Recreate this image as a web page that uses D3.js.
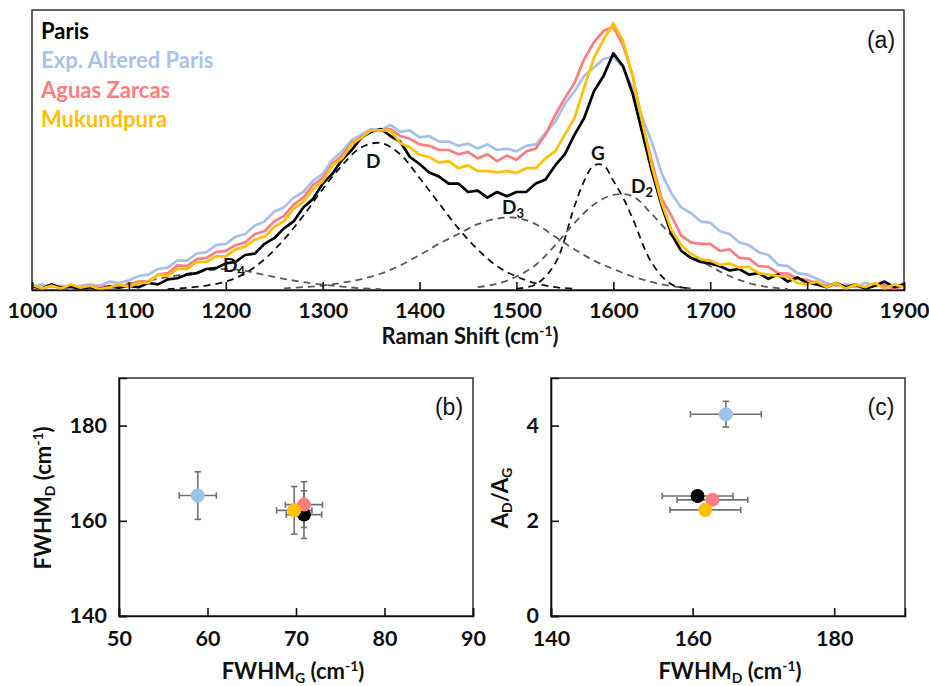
<!DOCTYPE html>
<html><head><meta charset="utf-8">
<script src="https://cdn.jsdelivr.net/npm/d3@7"></script>
<style>body{margin:0;background:#fff}svg{display:block;font-family:Lato,"Open Sans",sans-serif}</style>
</head><body><svg id="chart" width="929" height="686"></svg>
<script>
// ---------- data ----------
const seriesNames = ["Paris", "Exp. Altered Paris", "Aguas Zarcas", "Mukundpura"];
const seriesColors = ["#000000", "#a7c0e8", "#ff7c80", "#ffc000"];
const markerColors = ["#000000", "#9fc2e8", "#ff7c80", "#ffc000"];

const ramanShift = d3.range(1000, 1901, 10);
const parisI = [1.5,0.5,2.0,0.8,1.2,0.5,1.0,0.3,1.2,0.8,
  1.5,1.0,2.5,2.0,3.8,4.2,5.5,6.0,7.5,7.8,
  9.5,10.0,12.5,13.0,16.5,18.5,22.0,24.5,29.5,32.5,
  38.0,41.5,46.5,50.0,54.5,56.5,57.5,55.0,53.0,47.5,
  45.0,42.0,40.5,38.0,38.0,35.0,35.5,33.0,35.0,33.5,
  35.0,35.0,38.0,39.5,44.5,48.5,55.5,61.5,71.0,76.5,
  84.5,80.0,70.0,56.0,42.0,30.0,20.0,14.0,11.5,10.0,
  9.5,8.5,7.0,7.5,5.5,6.0,4.0,5.5,3.0,4.5,
  2.5,2.0,1.0,2.5,1.0,2.0,0.5,1.5,3.0,1.0,2.0];
const alteredI = [1.0,2.0,1.0,1.5,0.5,1.5,2.0,1.5,3.0,2.5,
  3.5,5.0,5.5,7.5,8.0,10.5,10.5,13.0,13.5,16.0,
  16.5,19.0,20.0,23.0,24.5,28.0,29.5,33.0,35.0,39.0,
  41.5,46.5,49.5,53.5,55.5,57.5,57.0,59.0,56.5,57.0,
  54.5,55.0,53.0,53.0,51.5,52.3,50.5,52.0,50.0,50.5,
  49.5,51.5,52.0,56.0,60.0,66.5,71.0,76.5,79.5,82.5,
  83.3,79.5,72.0,61.5,52.5,41.5,34.5,29.5,27.5,24.5,
  24.0,21.0,20.0,17.0,16.0,13.5,12.5,9.0,8.5,6.0,
  5.5,4.0,2.5,1.5,2.0,1.0,2.5,1.5,2.0,1.0,2.5];
const aguasI = [1.0,0.5,1.5,0.8,1.5,0.5,1.2,0.8,1.5,1.2,
  2.0,3.0,3.0,5.5,6.0,8.8,8.5,11.0,11.5,13.5,
  14.0,16.0,17.0,20.0,21.0,24.5,26.5,30.5,33.0,37.5,
  40.0,45.0,48.0,52.5,54.5,57.0,57.0,57.5,55.0,54.0,
  52.0,51.5,50.0,50.0,48.5,49.3,47.0,48.5,46.0,48.0,
  46.5,49.5,50.5,55.5,62.5,68.5,74.0,82.5,88.5,92.5,
  94.0,87.5,76.5,59.5,45.5,32.5,26.5,19.5,17.0,16.5,
  16.5,14.0,14.5,11.5,11.2,8.5,8.3,6.0,5.9,4.0,
  3.6,2.5,1.5,2.0,1.0,1.5,0.5,2.0,1.5,0.5,1.5];
const mukundpuraI = [2.0,0.5,1.5,0.5,2.0,0.8,1.5,0.3,1.0,1.8,
  1.2,2.5,2.5,5.5,5.0,7.5,7.5,10.0,10.0,12.0,
  12.0,14.5,15.5,18.0,19.0,22.5,24.5,29.0,31.5,36.0,
  38.8,44.5,47.0,52.0,54.5,57.0,57.0,57.0,52.5,51.0,
  48.3,47.5,45.5,46.0,43.5,44.5,42.5,42.5,42.0,42.5,
  41.8,43.5,43.5,47.0,49.5,55.5,61.5,72.5,82.8,89.5,
  95.2,89.0,76.0,60.0,44.0,31.0,21.4,16.0,13.0,11.0,
  10.5,9.0,9.5,8.0,8.3,6.0,5.5,5.0,4.8,2.5,
  2.0,3.0,1.0,2.5,0.5,2.0,1.0,2.5,0.5,2.0,1.0];

// fitted bands (Paris)
const d4Shift = [1060,1080,1100,1120,1140,1160,1180,1200,1220,1240,1260,1280,1300,1320,1340,1360];
const d4Val   = [1.0,1.5,2.4,3.4,4.6,5.8,6.9,7.5,6.8,5.4,4.0,2.8,1.9,1.2,0.6,0.3];
const dShift  = [1140,1160,1180,1200,1220,1240,1260,1280,1300,1320,1340,1360,1380,1400,1420,1440,1460,1480,1500,1520,1540,1560];
const dVal    = [0.3,0.8,1.6,3.0,6.0,11.0,18.0,26.5,36.0,44.5,51.0,52.5,48.5,40.0,31.0,22.0,14.5,8.5,4.8,2.4,1.0,0.4];
const d3Shift = [1260,1280,1300,1320,1340,1360,1380,1400,1420,1440,1460,1480,1500,1520,1540,1560,1580,1600,1620,1640,1660,1680];
const d3Val   = [0.6,1.0,1.6,2.6,3.9,5.8,8.8,12.5,16.5,20.0,23.5,25.5,25.8,23.5,19.0,14.5,10.5,7.5,4.8,2.8,1.4,0.6];
const gShift  = [1500,1520,1540,1560,1570,1580,1590,1600,1610,1620,1640,1660,1680];
const gVal    = [0.5,2.0,9.5,30.0,39.0,44.5,44.5,39.0,33.0,25.5,9.5,2.0,0.5];
const d2Shift = [1460,1480,1500,1520,1540,1560,1580,1600,1620,1640,1660,1680,1700,1720,1740,1760,1780];
const d2Val   = [1.0,2.2,4.8,9.0,16.0,24.0,30.5,34.0,33.5,27.0,19.5,13.0,8.5,5.0,2.5,1.0,0.4];

// panel b / c values (Paris, Exp. Altered Paris, Aguas Zarcas, Mukundpura)
const fwhmG     = [70.9, 58.9, 70.9, 69.8];
const fwhmGErr  = [2.0, 2.1, 2.1, 2.0];
const fwhmD_b   = [161.3, 165.3, 163.4, 162.2];
const fwhmD_bErr= [5.0, 5.0, 4.8, 5.0];
const fwhmD_c   = [160.7, 164.7, 162.8, 161.8];
const fwhmD_cErr= [5.0, 5.0, 5.0, 5.0];
const adRatio   = [2.52, 4.24, 2.44, 2.23];
const adRatioErr= [0.08, 0.27, 0.08, 0.12];

const ticksA = [1000,1100,1200,1300,1400,1500,1600,1700,1800,1900];
const ticksBx = [50,60,70,80,90], ticksBy = [140,160,180];
const ticksCx = [140,160,180], ticksCy = [0,2,4];

// ---------- drawing ----------
const svg = d3.select("#chart");
const FS = 22, TFS = 21.5, SUB = 14;

// Panel (a)
const xA = d3.scaleLinear().domain([1000,1900]).range([32,904]);
const yA = d3.scaleLinear().domain([0,100]).range([290,10]);
const gA = svg.append("g");
gA.append("rect").attr("x",32).attr("y",10).attr("width",872).attr("height",280)
  .attr("fill","none").attr("stroke","#222").attr("stroke-width",1.4);

const fitLine = d3.line().curve(d3.curveCatmullRom.alpha(0.5));
const fits = [
  {xs:d4Shift, ys:d4Val, c:"#5a5a5a"},
  {xs:dShift, ys:dVal, c:"#111"},
  {xs:d3Shift, ys:d3Val, c:"#5a5a5a"},
  {xs:gShift, ys:gVal, c:"#111"},
  {xs:d2Shift, ys:d2Val, c:"#5a5a5a"}
];
fits.forEach(f => {
  gA.append("path").attr("d", fitLine(f.xs.map((x,i)=>[xA(x), yA(f.ys[i])])))
    .attr("fill","none").attr("stroke",f.c).attr("stroke-width",1.8).attr("stroke-dasharray","7,5");
});

const spectra = [alteredI, aguasI, parisI, mukundpuraI];
const specColors = [seriesColors[1], seriesColors[2], seriesColors[0], seriesColors[3]];
const specLine = d3.line().curve(d3.curveLinear);
spectra.forEach((s,k) => {
  gA.append("path").attr("d", specLine(ramanShift.map((x,i)=>[xA(x), yA(s[i])])))
    .attr("fill","none").attr("stroke",specColors[k]).attr("stroke-width",2.7)
    .attr("stroke-linejoin","round");
});

// x axis (a)
const axA = d3.axisBottom(xA).tickValues(ticksA).tickSize(-8).tickPadding(14).tickFormat(d3.format("d"));
const axAg = gA.append("g").attr("transform","translate(0,290)").call(axA);
axAg.select(".domain").attr("stroke","#111").attr("stroke-width",1.6);
axAg.selectAll(".tick line").attr("stroke","#111").attr("stroke-width",1.6);
axAg.selectAll(".tick text").attr("font-size",TFS).attr("font-weight","bold").attr("fill","#111")
  .attr("font-family","Lato").attr("dy","0.66em");

gA.append("text").attr("x",470).attr("y",344).attr("text-anchor","middle")
  .attr("font-size",FS).attr("font-weight","bold").attr("fill","#111")
  .call(t=>{t.append("tspan").text("Raman Shift (cm");
    t.append("tspan").text("-1").attr("font-size",SUB).attr("dy",-8);
    t.append("tspan").text(")").attr("dy",8);});

// legend
seriesNames.forEach((n,i)=>{
  gA.append("text").attr("x",41).attr("y",39 + i*29.3).text(n)
    .attr("font-size",FS).attr("font-weight","bold").attr("fill", i===1 ? "#a7c4e8" : seriesColors[i]);
});
gA.append("text").attr("x",881).attr("y",48).attr("text-anchor","middle").text("(a)")
  .attr("font-size",23).attr("fill","#111").attr("font-family","'Liberation Sans',Arial,sans-serif");

// band labels
function bandLabel(x,y,main,sub){
  const t = gA.append("text").attr("x",x).attr("y",y).attr("font-size",19).attr("font-weight","bold").attr("fill","#111");
  t.append("tspan").text(main);
  if(sub) t.append("tspan").text(sub).attr("font-size",13).attr("dy",4);
}
bandLabel(366,168,"D");
bandLabel(223,272,"D","4");
bandLabel(502,214,"D","3");
bandLabel(591,160,"G");
bandLabel(631,193,"D","2");

// ---------- scatter panels ----------
function scatterPanel(opt){
  const g = svg.append("g");
  const x = d3.scaleLinear().domain(opt.xd).range(opt.xr);
  const y = d3.scaleLinear().domain(opt.yd).range([616,378]);
  g.append("rect").attr("x",opt.xr[0]).attr("y",378).attr("width",opt.xr[1]-opt.xr[0]).attr("height",238)
    .attr("fill","none").attr("stroke","#222").attr("stroke-width",1.4);
  const ax = g.append("g").attr("transform","translate(0,616)")
    .call(d3.axisBottom(x).tickValues(opt.xt).tickSize(-8).tickPadding(14).tickFormat(d3.format("d")));
  const ay = g.append("g").attr("transform",`translate(${opt.xr[0]},0)`)
    .call(d3.axisLeft(y).tickValues(opt.yt).tickSize(-8).tickPadding(12).tickFormat(d3.format("d")));
  [ax,ay].forEach(a=>{
    a.select(".domain").attr("stroke","#111").attr("stroke-width",1.6);
    a.selectAll(".tick line").attr("stroke","#111").attr("stroke-width",1.6);
    a.selectAll(".tick text").attr("font-size",TFS).attr("font-weight","bold").attr("fill","#111").attr("font-family","Lato");
  });
  ax.selectAll(".tick text").attr("dy","0.75em");
  // error bars
  const cap = 3.2, ec = "#707070";
  opt.order.forEach(i=>{
    const cx = x(opt.xv[i]), cy = y(opt.yv[i]);
    const x0 = x(opt.xv[i]-opt.xe[i]), x1 = x(opt.xv[i]+opt.xe[i]);
    const y0 = y(opt.yv[i]-opt.ye[i]), y1 = y(opt.yv[i]+opt.ye[i]);
    const eg = g.append("g").attr("stroke",ec).attr("stroke-width",1.6);
    eg.append("line").attr("x1",x0).attr("x2",x1).attr("y1",cy).attr("y2",cy);
    eg.append("line").attr("x1",x0).attr("x2",x0).attr("y1",cy-cap).attr("y2",cy+cap);
    eg.append("line").attr("x1",x1).attr("x2",x1).attr("y1",cy-cap).attr("y2",cy+cap);
    eg.append("line").attr("x1",cx).attr("x2",cx).attr("y1",y0).attr("y2",y1);
    eg.append("line").attr("x1",cx-cap).attr("x2",cx+cap).attr("y1",y0).attr("y2",y0);
    eg.append("line").attr("x1",cx-cap).attr("x2",cx+cap).attr("y1",y1).attr("y2",y1);
  });
  opt.order.forEach(i=>{
    g.append("circle").attr("cx",x(opt.xv[i])).attr("cy",y(opt.yv[i])).attr("r",7)
      .attr("fill",markerColors[i]);
  });
  g.append("text").attr("x",opt.xr[1]-24).attr("y",415).attr("text-anchor","middle").text(opt.tag)
    .attr("font-size",23).attr("fill","#111").attr("font-family","'Liberation Sans',Arial,sans-serif");
  // x title
  const xt = g.append("text").attr("x",opt.xtitleX).attr("y",679).attr("text-anchor","middle")
    .attr("font-size",FS).attr("font-weight","bold").attr("fill","#111");
  xt.append("tspan").text("FWHM");
  xt.append("tspan").text(opt.xsub).attr("font-size",SUB).attr("dy",4);
  xt.append("tspan").text(" (cm").attr("dy",-4);
  xt.append("tspan").text("-1").attr("font-size",SUB).attr("dy",-8);
  xt.append("tspan").text(")").attr("dy",8);
  // y title
  const yt = g.append("text").attr("transform",`translate(${opt.ytitleX},498) rotate(-90)`)
    .attr("text-anchor","middle").attr("font-size",FS).attr("font-weight","bold").attr("fill","#111");
  opt.ytitle(yt);
}

scatterPanel({xd:[50,90], xr:[119,473], yd:[140,190], xt:ticksBx, yt:ticksBy,
  xv:fwhmG, xe:fwhmGErr, yv:fwhmD_b, ye:fwhmD_bErr, order:[1,0,2,3], tag:"(b)",
  xsub:"G", xtitleX:293, ytitleX:51,
  ytitle:t=>{t.append("tspan").text("FWHM");
    t.append("tspan").text("D").attr("font-size",SUB).attr("dy",4);
    t.append("tspan").text(" (cm").attr("dy",-4);
    t.append("tspan").text("-1").attr("font-size",SUB).attr("dy",-8);
    t.append("tspan").text(")").attr("dy",8);}});

scatterPanel({xd:[140,190], xr:[551,905], yd:[0,5], xt:ticksCx, yt:ticksCy,
  xv:fwhmD_c, xe:fwhmD_cErr, yv:adRatio, ye:adRatioErr, order:[1,2,0,3], tag:"(c)",
  xsub:"D", xtitleX:730, ytitleX:508,
  ytitle:t=>{t.append("tspan").text("A");
    t.append("tspan").text("D").attr("font-size",SUB).attr("dy",4);
    t.append("tspan").text("/A").attr("dy",-4);
    t.append("tspan").text("G").attr("font-size",SUB).attr("dy",4);}});
</script></body></html>
